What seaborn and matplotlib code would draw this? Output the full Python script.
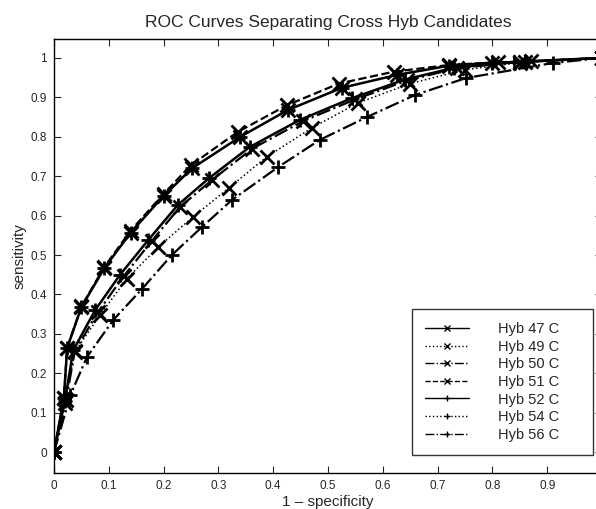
import pandas as pd
import seaborn as sns
import matplotlib.pyplot as plt

# ROC points (1 - specificity, sensitivity)
top_x = [0, 0.018, 0.024, 0.05, 0.092, 0.14, 0.20, 0.252, 0.34, 0.427, 0.525, 0.626, 0.72, 0.80, 0.86, 1.0]
top_y = [0, 0.137, 0.264, 0.368, 0.467, 0.557, 0.650, 0.720, 0.800, 0.868, 0.924, 0.957, 0.980, 0.988, 0.990, 1.0]

dash_x = [0, 0.018, 0.024, 0.05, 0.092, 0.14, 0.20, 0.25, 0.335, 0.425, 0.52, 0.62, 0.72, 0.81, 0.87, 1.0]
dash_y = [0, 0.137, 0.264, 0.370, 0.470, 0.562, 0.655, 0.728, 0.812, 0.880, 0.935, 0.965, 0.982, 0.989, 0.991, 1.0]

mid_x = [0, 0.02, 0.035, 0.075, 0.12, 0.172, 0.226, 0.283, 0.357, 0.449, 0.544, 0.64, 0.73, 0.84, 1.0]
mid_y = [0, 0.130, 0.258, 0.360, 0.449, 0.538, 0.627, 0.695, 0.774, 0.843, 0.898, 0.945, 0.975, 0.990, 1.0]

mid2_x = [0, 0.022, 0.038, 0.08, 0.127, 0.178, 0.23, 0.288, 0.362, 0.455, 0.55, 0.645, 0.735, 0.85, 1.0]
mid2_y = [0, 0.132, 0.256, 0.355, 0.446, 0.535, 0.622, 0.690, 0.770, 0.840, 0.895, 0.943, 0.974, 0.990, 1.0]

dot_x = [0, 0.02, 0.038, 0.084, 0.133, 0.19, 0.254, 0.319, 0.388, 0.47, 0.555, 0.65, 0.75, 0.85, 1.0]
dot_y = [0, 0.125, 0.254, 0.348, 0.440, 0.520, 0.597, 0.670, 0.749, 0.822, 0.886, 0.935, 0.970, 0.988, 1.0]

low_x = [0, 0.03, 0.06, 0.108, 0.16, 0.215, 0.27, 0.325, 0.409, 0.485, 0.571, 0.659, 0.752, 0.91, 1.0]
low_y = [0, 0.145, 0.241, 0.335, 0.413, 0.500, 0.571, 0.640, 0.723, 0.792, 0.850, 0.906, 0.949, 0.987, 1.0]

labels = ['Hyb 47 C', 'Hyb 49 C', 'Hyb 50 C', 'Hyb 51 C', 'Hyb 52 C', 'Hyb 54 C', 'Hyb 56 C']
curves = [(top_x, top_y), (dot_x, dot_y), (mid2_x, mid2_y), (dash_x, dash_y),
          (mid_x, mid_y), (top_x, top_y), (low_x, low_y)]
markers = ['x', 'x', 'x', 'x', '+', '+', '+']
styles = ['-', ':', '-.', '--', '-', ':', '-.']
widths = [1.8, 1.1, 1.6, 1.6, 1.8, 1.1, 1.6]
tick_labels = ['0', '0.1', '0.2', '0.3', '0.4', '0.5', '0.6', '0.7', '0.8', '0.9', '1']

sns.set_style('ticks')
plt.rcParams['font.family'] = ['Liberation Sans', 'DejaVu Sans']

fig = plt.figure(figsize=(5.96, 5.09), dpi=100)
ax = fig.add_axes([54 / 596, 36 / 509, 548 / 596, 434 / 509])

for (xs, ys), lab, mk, ls, lw in zip(curves, labels, markers, styles, widths):
    df = pd.DataFrame({'fpr': xs, 'tpr': ys})
    sns.lineplot(data=df, x='fpr', y='tpr', ax=ax, color='black', sort=False,
                 linestyle=ls, linewidth=lw, marker=mk, markersize=10,
                 markeredgewidth=2.0, markeredgecolor='black', label=lab)

ax.set_xlim(0, 1)
ax.set_ylim(-0.053, 1.048)
ax.set_xticks([i / 10 for i in range(11)])
# the x = 1 tick sits past the right edge of the picture, as in the reference
ax.set_xticklabels(tick_labels[:-1] + [''])
ax.set_yticks([i / 10 for i in range(11)])
ax.set_yticklabels(tick_labels)
ax.tick_params(direction='in', length=5, width=0.8, top=True, right=True, labelsize=8.5, pad=5)
for s in ax.spines.values():
    s.set_linewidth(1.0)
    s.set_color('black')

ax.set_xlabel('1 \u2013 specificity', fontsize=11, labelpad=2)
ax.set_ylabel('sensitivity', fontsize=11, labelpad=3)
ax.set_title('ROC Curves Separating Cross Hyb Candidates', fontsize=12.5, pad=9)

leg = ax.legend(loc='lower left', bbox_to_anchor=(412 / 596, 54 / 509, 181 / 596, 0.2),
                bbox_transform=fig.transFigure, mode='expand', fontsize=10.5, frameon=True,
                fancybox=False, handlelength=3.0, handletextpad=2.0, labelspacing=0.25,
                borderpad=0.9, borderaxespad=0, markerscale=0.5)
leg.get_frame().set_edgecolor('black')
leg.get_frame().set_linewidth(1.0)
for line in leg.get_lines():
    line.set_linewidth(1.0)
    line.set_markeredgewidth(1.0)

plt.savefig('out.png', dpi=100)
plt.close()
